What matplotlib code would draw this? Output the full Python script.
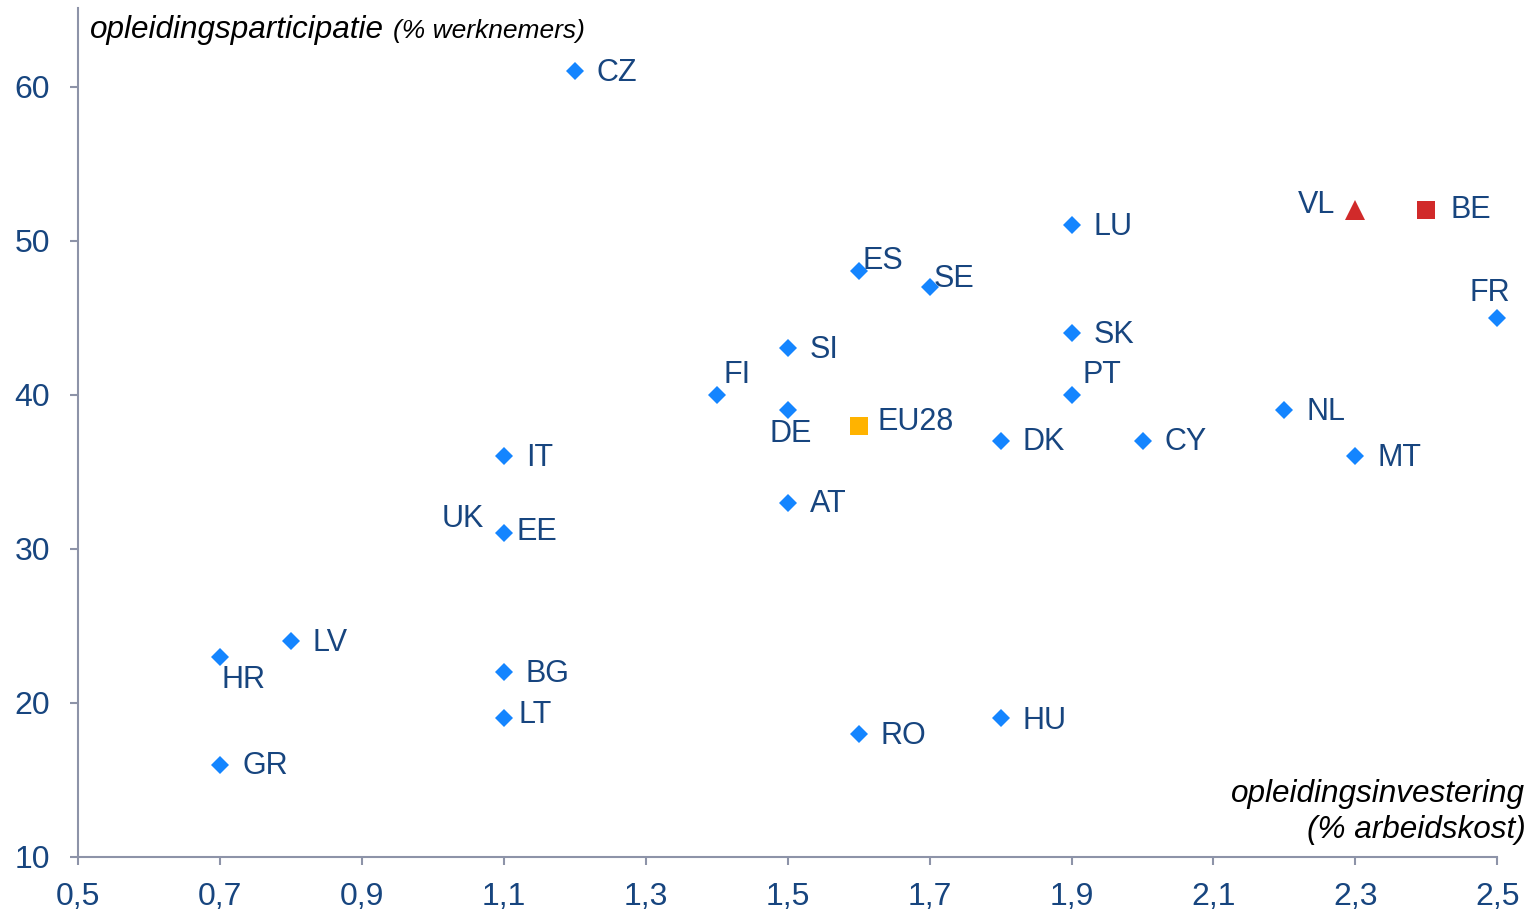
import matplotlib
matplotlib.use('Agg')
import matplotlib.pyplot as plt
from matplotlib.ticker import FuncFormatter

plt.rcParams['font.family'] = ['Liberation Sans', 'DejaVu Sans']

# landen: investering (% arbeidskost), participatie (% werknemers)
countries = ['CZ', 'LU', 'ES', 'SE', 'FR', 'SK', 'SI', 'FI', 'PT', 'DE', 'NL', 'DK', 'CY',
             'IT', 'MT', 'AT', 'EE', 'LV', 'HR', 'BG', 'LT', 'HU', 'RO', 'GR']
invest = [1.2, 1.9, 1.6, 1.7, 2.5, 1.9, 1.5, 1.4, 1.9, 1.5, 2.2, 1.8, 2.0,
          1.1, 2.3, 1.5, 1.1, 0.8, 0.7, 1.1, 1.1, 1.8, 1.6, 0.7]
partic = [61, 51, 48, 47, 45, 44, 43, 40, 40, 39, 39, 37, 37,
          36, 36, 33, 31, 24, 23, 22, 19, 19, 18, 16]

eu_x, eu_y = 1.6, 38
vl_x, vl_y = 2.3, 52
be_x, be_y = 2.4, 52
uk_x, uk_y = 1.1, 31

TXT = '#17457f'
BLUE = '#1485ff'
RED = '#d12a2a'
ORANGE = '#ffb300'
GREY = '#8d93a8'
PX = 0.72  # pixels -> points at dpi 100
FS = 22
UP = 2  # small vertical nudge for all labels (px)

# label offsets in pixels (dx, dy up), alignment
offs = {
    'CZ': (22, 0, 'left'), 'LU': (22, 0, 'left'), 'ES': (4, 12, 'left'),
    'SE': (4, 9, 'left'), 'FR': (-8, 26, 'center'), 'SK': (22, 0, 'left'),
    'SI': (22, 0, 'left'), 'FI': (7, 21, 'left'), 'PT': (11, 21, 'left'),
    'DE': (3, -22, 'center'), 'NL': (22, 0, 'left'), 'DK': (22, 0, 'left'),
    'CY': (22, 0, 'left'), 'IT': (22, 0, 'left'), 'MT': (22, 0, 'left'),
    'AT': (22, 0, 'left'), 'EE': (13, 3, 'left'), 'LV': (22, 0, 'left'),
    'HR': (1, -22, 'left'), 'BG': (22, 0, 'left'), 'LT': (15, 5, 'left'),
    'HU': (22, -1, 'left'), 'RO': (22, -1, 'left'), 'GR': (22, 0, 'left'),
}

fig = plt.figure(figsize=(15.31, 9.11), dpi=100)
ax = fig.add_axes([0.051, 0.0593, 0.927, 0.932])

ax.plot(invest, partic, linestyle='none', marker='D', markersize=8.8,
        color=BLUE, markeredgewidth=0, clip_on=False)
ax.plot([eu_x], [eu_y], linestyle='none', marker='s', markersize=12.5,
        color=ORANGE, markeredgewidth=0, clip_on=False)
ax.plot([be_x], [be_y], linestyle='none', marker='s', markersize=12.5,
        color=RED, markeredgewidth=0, clip_on=False)
ax.plot([vl_x], [vl_y], linestyle='none', marker='^', markersize=15,
        color=RED, markeredgewidth=0, clip_on=False)

def label(txt, x, y, dx, dy, ha):
    ax.annotate(txt, (x, y), xytext=(dx * PX, (dy + UP) * PX), textcoords='offset points',
                ha=ha, va='center_baseline', fontsize=FS, color=TXT)

for c, x, y in zip(countries, invest, partic):
    dx, dy, ha = offs[c]
    label(c, x, y, dx, dy, ha)

label('UK', uk_x, uk_y, -20, 16, 'right')
label('EU28', eu_x, eu_y, 19, 5, 'left')
label('BE', be_x, be_y, 24, 1, 'left')
label('VL', vl_x, vl_y, -20, 6, 'right')

ax.set_xlim(0.5, 2.5)
ax.set_ylim(10, 65.1)
ax.set_xticks([0.5, 0.7, 0.9, 1.1, 1.3, 1.5, 1.7, 1.9, 2.1, 2.3, 2.5])
ax.set_yticks([10, 20, 30, 40, 50, 60])
ax.xaxis.set_major_formatter(FuncFormatter(lambda v, p: '{:.1f}'.format(v).replace('.', ',')))
ax.tick_params(axis='both', direction='out', length=6, width=1.5, color=GREY,
               labelsize=23, labelcolor=TXT)
ax.tick_params(axis='x', pad=12)
ax.tick_params(axis='y', pad=14)
for s in ['top', 'right']:
    ax.spines[s].set_visible(False)
for s in ['left', 'bottom']:
    ax.spines[s].set_color(GREY)
    ax.spines[s].set_linewidth(1.5)

ax.text(0.0085, 0.9647, 'opleidingsparticipatie', transform=ax.transAxes,
        ha='left', va='baseline', fontsize=22.7, style='italic', color='black')
ax.text(0.222, 0.9647, '(% werknemers)', transform=ax.transAxes,
        ha='left', va='baseline', fontsize=19, style='italic', color='black')
ax.text(1.0197, 0.0648, 'opleidingsinvestering', transform=ax.transAxes,
        ha='right', va='baseline', fontsize=22.7, style='italic', color='black')
ax.text(1.0197, 0.0224, '(% arbeidskost)', transform=ax.transAxes,
        ha='right', va='baseline', fontsize=22.7, style='italic', color='black')

fig.savefig('out.png', dpi=100)
